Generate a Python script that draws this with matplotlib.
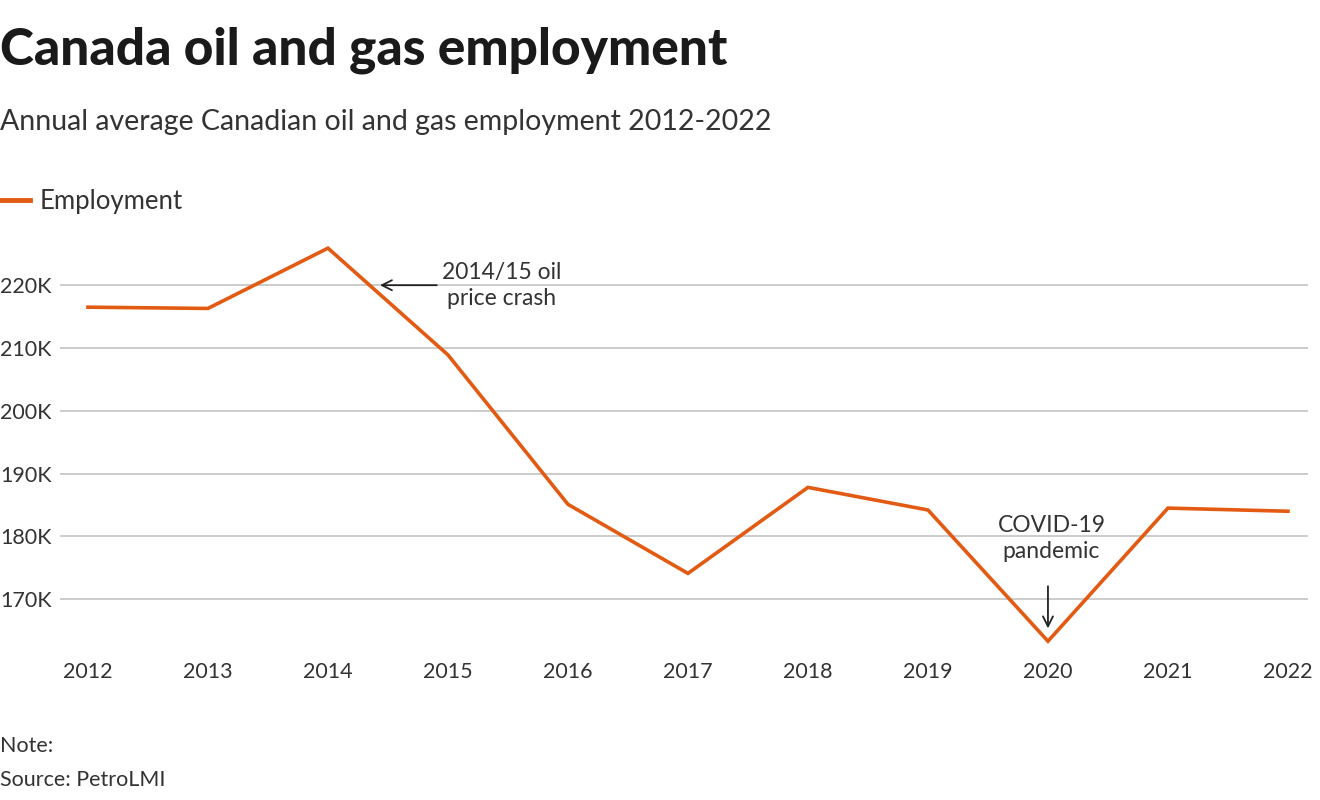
import matplotlib.pyplot as plt

years = [2012, 2013, 2014, 2015, 2016, 2017, 2018, 2019, 2020, 2021, 2022]
employment = [216.5, 216.3, 225.9, 208.9, 185.1, 174.1, 187.8, 184.2, 163.3, 184.5, 184.0]
yticks = [170, 180, 190, 200, 210, 220]
ytick_labels = ['170K', '180K', '190K', '200K', '210K', '220K']

orange = '#e35a12'
txt = '#333333'
plt.rcParams['font.family'] = ['Lato', 'DejaVu Sans']

fig = plt.figure(figsize=(13.2, 8), dpi=100)
ax = fig.add_axes([60 / 1320, 0.1875, 1248 / 1320, 0.5125])

ax.plot(years, employment, color=orange, linewidth=2.6, solid_joinstyle='miter')

ax.set_xlim(2011.767, 2022.167)
ax.set_ylim(161.9, 227.2)
ax.set_xticks(years)
ax.set_xticklabels([str(y) for y in years], fontsize=15.5, color=txt)
ax.set_yticks(yticks)
ax.set_yticklabels(ytick_labels, fontsize=15.5, color=txt, ha='left')
ax.tick_params(axis='y', length=0, pad=43)
ax.tick_params(axis='x', length=0, pad=9)
ax.grid(axis='y', color='#c4c4c4', linewidth=1.2)
ax.set_axisbelow(True)
for s in ax.spines.values():
    s.set_visible(False)

# annotations
ax.annotate('', xy=(2014.41, 220), xytext=(2014.93, 220),
            arrowprops=dict(arrowstyle='->', color='#222222', lw=1.3, mutation_scale=18))
ax.text(2015.45, 220, '2014/15 oil\nprice crash', ha='center', va='center',
        fontsize=16.5, color=txt, linespacing=1.3)
ax.annotate('', xy=(2020, 164.9), xytext=(2020, 172.5),
            arrowprops=dict(arrowstyle='->', color='#222222', lw=1.3, mutation_scale=18))
ax.text(2020.03, 179.6, 'COVID-19\npandemic', ha='center', va='center',
        fontsize=16.5, color=txt, linespacing=1.3)

fig.text(0, 1 - 50 / 800, 'Canada oil and gas employment', fontsize=37, fontweight='black',
         color='#1a1a1a', va='center', ha='left')
fig.text(0, 1 - 122 / 800, 'Annual average Canadian oil and gas employment 2012-2022', fontsize=20.5,
         color=txt, va='center', ha='left')

# legend
fig.add_artist(plt.Line2D([0 / 1320, 30 / 1320], [1 - 200 / 800] * 2, color=orange, linewidth=3.5,
                          transform=fig.transFigure))
fig.text(40 / 1320, 1 - 202 / 800, 'Employment', fontsize=18.5,
         color=txt, va='center', ha='left')

fig.text(0, 1 - 746 / 800, 'Note:', fontsize=15.5, color=txt, va='center', ha='left')
fig.text(0, 1 - 780 / 800, 'Source: PetroLMI', fontsize=15.5, color=txt, va='center', ha='left')

fig.savefig('out.png', dpi=100)
